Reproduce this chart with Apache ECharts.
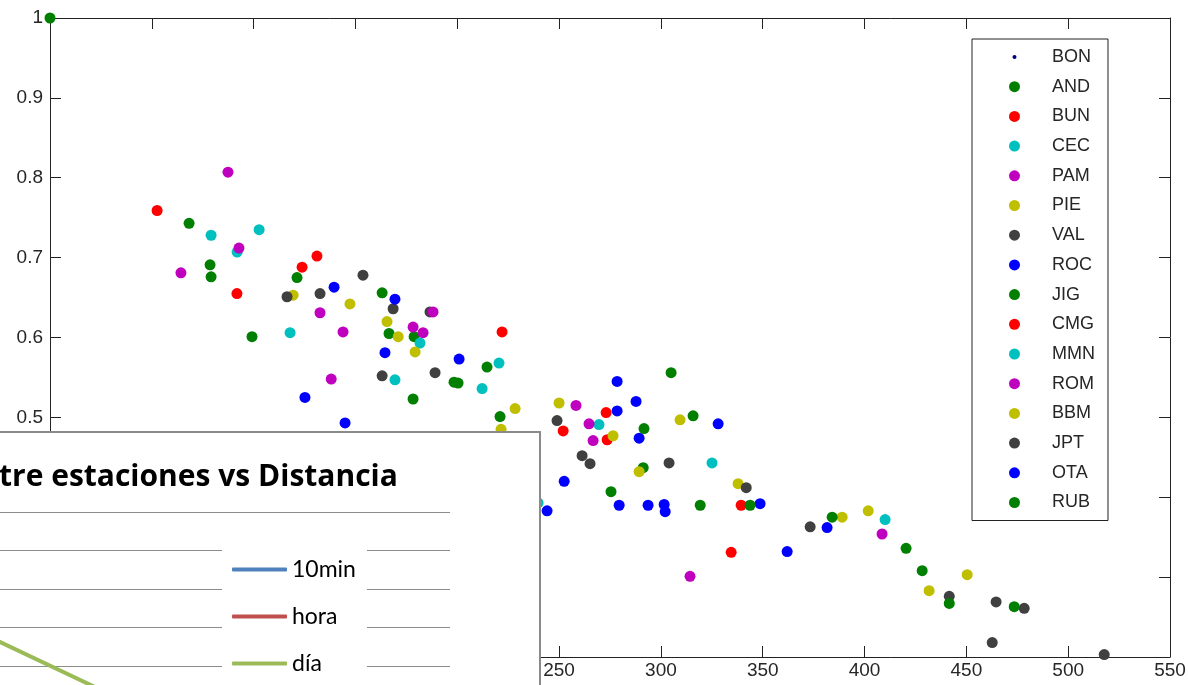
<!DOCTYPE html>
<html>
<head>
<meta charset="utf-8">
<script src="https://cdn.jsdelivr.net/npm/echarts@6/dist/echarts.min.js"></script>
<style>
  html, body { margin: 0; padding: 0; background: #ffffff; }
  #chart { width: 1188px; height: 685px; }
</style>
</head>
<body>
<div id="chart"></div>
<script>
// Correlation between station pairs vs. distance between them (km)
const stationNames = ['BON', 'AND', 'BUN', 'CEC', 'PAM', 'PIE', 'VAL', 'ROC',
                      'JIG', 'CMG', 'MMN', 'ROM', 'BBM', 'JPT', 'OTA', 'RUB'];

// [distance km, correlation]
const BON = [[0, 1.0]];
const AND = [[0, 1.0], [68.3, 0.743], [78.6, 0.691], [79.1, 0.676], [99.2, 0.601],
             [121.3, 0.675], [163.1, 0.656], [166.5, 0.605], [178.8, 0.601]];
const BUN = [[52.6, 0.759], [91.8, 0.655], [123.8, 0.688], [131.1, 0.702], [222.0, 0.607]];
const CEC = [[79.1, 0.728], [91.9, 0.707], [102.7, 0.735], [117.9, 0.606], [169.4, 0.547], [181.7, 0.593]];
const PAM = [[64.3, 0.681], [87.4, 0.807], [92.8, 0.712], [132.6, 0.631], [138.1, 0.548],
             [143.9, 0.607], [178.3, 0.613]];
const PIE = [[119.4, 0.653], [147.3, 0.642], [165.5, 0.620], [171.0, 0.601], [179.3, 0.582],
             [221.5, 0.485], [228.4, 0.511], [250.0, 0.518]];
const VAL = [[116.4, 0.651], [132.6, 0.655], [153.7, 0.678], [163.1, 0.552], [168.5, 0.636],
             [186.6, 0.632], [189.1, 0.556], [249.0, 0.496], [261.3, 0.452]];
const ROC = [[125.2, 0.525], [139.5, 0.663], [144.9, 0.493], [164.5, 0.581], [169.4, 0.648],
             [200.9, 0.573], [244.1, 0.383], [252.5, 0.420], [278.5, 0.545], [278.5, 0.508]];
const JIG = [[178.3, 0.523], [198.4, 0.544], [200.4, 0.543], [214.6, 0.563], [221.0, 0.501],
             [275.5, 0.407], [291.3, 0.437], [291.7, 0.486], [305.0, 0.556]];
const CMG = [[252.0, 0.483], [273.1, 0.506], [273.6, 0.472], [334.5, 0.331], [339.4, 0.390]];
const MMN = [[212.2, 0.536], [220.5, 0.568], [239.7, 0.393], [269.6, 0.491], [325.1, 0.443], [410.1, 0.372]];
const ROM = [[183.2, 0.606], [188.1, 0.632], [258.3, 0.515], [264.7, 0.492], [266.7, 0.471],
             [314.3, 0.301], [408.6, 0.354]];
const BBM = [[276.5, 0.477], [289.3, 0.432], [309.4, 0.497], [337.9, 0.417], [389.0, 0.375],
             [401.8, 0.383], [431.7, 0.283], [450.4, 0.303]];
const JPT = [[265.2, 0.442], [304.0, 0.443], [341.9, 0.412], [373.3, 0.363], [441.6, 0.276],
             [462.7, 0.218], [464.6, 0.269], [478.4, 0.261], [517.7, 0.203]];
const OTA = [[279.5, 0.390], [287.8, 0.520], [289.3, 0.474], [293.7, 0.390], [301.6, 0.391],
             [302.1, 0.382], [328.1, 0.492], [348.7, 0.392], [362.0, 0.332], [381.6, 0.362]];
const RUB = [[315.8, 0.502], [319.3, 0.390], [343.8, 0.390], [384.1, 0.375], [420.4, 0.336],
             [428.3, 0.308], [441.6, 0.267], [473.5, 0.263]];

const stationData = { BON, AND, BUN, CEC, PAM, PIE, VAL, ROC, JIG, CMG, MMN, ROM, BBM, JPT, OTA, RUB };

const xTicks = { min: 0, max: 550, step: 50 };
const yTicks = { min: 0.2, max: 1, step: 0.1 };

// Second chart: correlation by aggregation period
const periodNames = ['10min', 'hora', 'día'];
const period10min = [];
const periodHora = [];
const periodDia = [[200, 0.724], [350, 0.493]];
const periodData = { '10min': period10min, 'hora': periodHora, 'día': periodDia };

// MATLAB-style colour order
const stationColors = ['#00007f', '#007f00', '#ff0000', '#00bfbf', '#bf00bf', '#bfbf00', '#404040', '#0000ff',
                       '#007f00', '#ff0000', '#00bfbf', '#bf00bf', '#bfbf00', '#404040', '#0000ff', '#007f00'];
const periodColors = ['#4f81bd', '#c0504d', '#9bbb59'];

const axisInk = '#222222';
const tickFont = { fontFamily: 'Liberation Sans, Arial, sans-serif', fontSize: 19, color: '#262626' };

const chart = echarts.init(document.getElementById('chart'), null, { renderer: 'canvas' });

const scatterSeries = stationNames.map((name, i) => ({
  name,
  type: 'scatter',
  xAxisIndex: 0,
  yAxisIndex: 0,
  data: stationData[name],
  symbol: 'circle',
  symbolSize: name === 'BON' ? 5 : 11,
  itemStyle: { color: stationColors[i], opacity: 1 },
  emphasis: { disabled: true },
  z: 2
}));

const lineSeries = periodNames.map((name, i) => ({
  name,
  type: 'line',
  xAxisIndex: 2,
  yAxisIndex: 2,
  data: periodData[name],
  symbol: 'none',
  showSymbol: false,
  lineStyle: { color: periodColors[i], width: 4, cap: 'round' },
  itemStyle: { color: periodColors[i] },
  emphasis: { disabled: true },
  zlevel: 1,
  z: 3
}));

const dotIcon = 'path://M0,0M11,11M3.5,5.5a2,2 0 1,0 4,0a2,2 0 1,0 -4,0z';

const option = {
  backgroundColor: '#ffffff',
  animation: false,
  title: {
    text: 'tre estaciones vs Distancia',
    left: -1,
    top: 462,
    padding: 0,
    zlevel: 1,
    z: 6,
    textStyle: { fontFamily: 'Open Sans, sans-serif', fontWeight: 'bold', fontSize: 30, color: '#000000' }
  },
  graphic: [{
    type: 'rect',
    zlevel: 1,
    z: 0,
    silent: true,
    shape: { x: -5, y: 432, width: 545, height: 300 },
    style: { fill: '#ffffff', stroke: '#8a8a8a', lineWidth: 2 }
  }],
  grid: [
    { left: 50, right: 18, top: 18, bottom: 28, outerBoundsMode: 'none', containLabel: false },
    { left: -300, width: 750, top: 512, height: 385, outerBoundsMode: 'none', containLabel: false, zlevel: 1, z: 1 }
  ],
  legend: [
    {
      data: stationNames.map(n => n === 'BON' ? { name: n, icon: dotIcon } : { name: n }),
      orient: 'vertical',
      left: 972,
      top: 39,
      padding: [9, 13, 9, 37],
      itemWidth: 11,
      itemHeight: 11,
      itemGap: 11.7,
      selectedMode: false,
      backgroundColor: '#ffffff',
      borderColor: axisInk,
      borderWidth: 1,
      borderRadius: 0,
      textStyle: {
        fontFamily: 'Liberation Sans, Arial, sans-serif', fontSize: 18, color: '#262626',
        padding: [0, 0, 0, 27]
      }
    },
    {
      data: periodNames.map(n => ({ name: n, icon: 'roundRect' })),
      orient: 'vertical',
      left: 222,
      top: 540,
      height: 170,
      padding: [18, 11, 20, 10],
      itemWidth: 55,
      itemHeight: 4,
      itemGap: 24,
      selectedMode: false,
      backgroundColor: '#ffffff',
      zlevel: 1,
      z: 5,
      textStyle: { fontFamily: 'Lato, sans-serif', fontSize: 23, color: '#000000' }
    }
  ],
  xAxis: [
    {
      type: 'value', gridIndex: 0, position: 'bottom',
      min: xTicks.min, max: xTicks.max, interval: xTicks.step,
      axisLine: { show: true, onZero: false, lineStyle: { color: axisInk, width: 1 } },
      axisTick: { show: true, inside: true, length: 11, lineStyle: { color: axisInk } },
      axisLabel: Object.assign({ margin: 4 }, tickFont),
      splitLine: { show: false }
    },
    {
      type: 'value', gridIndex: 0, position: 'top',
      min: xTicks.min, max: xTicks.max, interval: xTicks.step,
      axisLine: { show: true, onZero: false, lineStyle: { color: axisInk, width: 1 } },
      axisTick: { show: true, inside: true, length: 11, lineStyle: { color: axisInk } },
      axisLabel: { show: false },
      splitLine: { show: false }
    },
    {
      type: 'value', gridIndex: 1, min: 0, max: 600,
      axisLine: { show: false }, axisTick: { show: false }, axisLabel: { show: false },
      splitLine: { show: false }, zlevel: 1, z: 2
    }
  ],
  yAxis: [
    {
      type: 'value', gridIndex: 0, position: 'left',
      min: yTicks.min, max: yTicks.max, interval: yTicks.step,
      axisLine: { show: true, onZero: false, lineStyle: { color: axisInk, width: 1 } },
      axisTick: { show: true, inside: true, length: 11, lineStyle: { color: axisInk } },
      axisLabel: Object.assign({ margin: 7, formatter: v => String(Math.round(v * 10) / 10) }, tickFont),
      splitLine: { show: false }
    },
    {
      type: 'value', gridIndex: 0, position: 'right',
      min: yTicks.min, max: yTicks.max, interval: yTicks.step,
      axisLine: { show: true, onZero: false, lineStyle: { color: axisInk, width: 1 } },
      axisTick: { show: true, inside: true, length: 11, lineStyle: { color: axisInk } },
      axisLabel: { show: false },
      splitLine: { show: false }
    },
    {
      type: 'value', gridIndex: 1, min: 0, max: 1, interval: 0.1,
      axisLine: { show: false }, axisTick: { show: false }, axisLabel: { show: false },
      splitLine: { show: true, lineStyle: { color: '#8c8c8c', width: 1 } },
      zlevel: 1, z: 2
    }
  ],
  series: scatterSeries.concat(lineSeries)
};

chart.setOption(option);
</script>
</body>
</html>
